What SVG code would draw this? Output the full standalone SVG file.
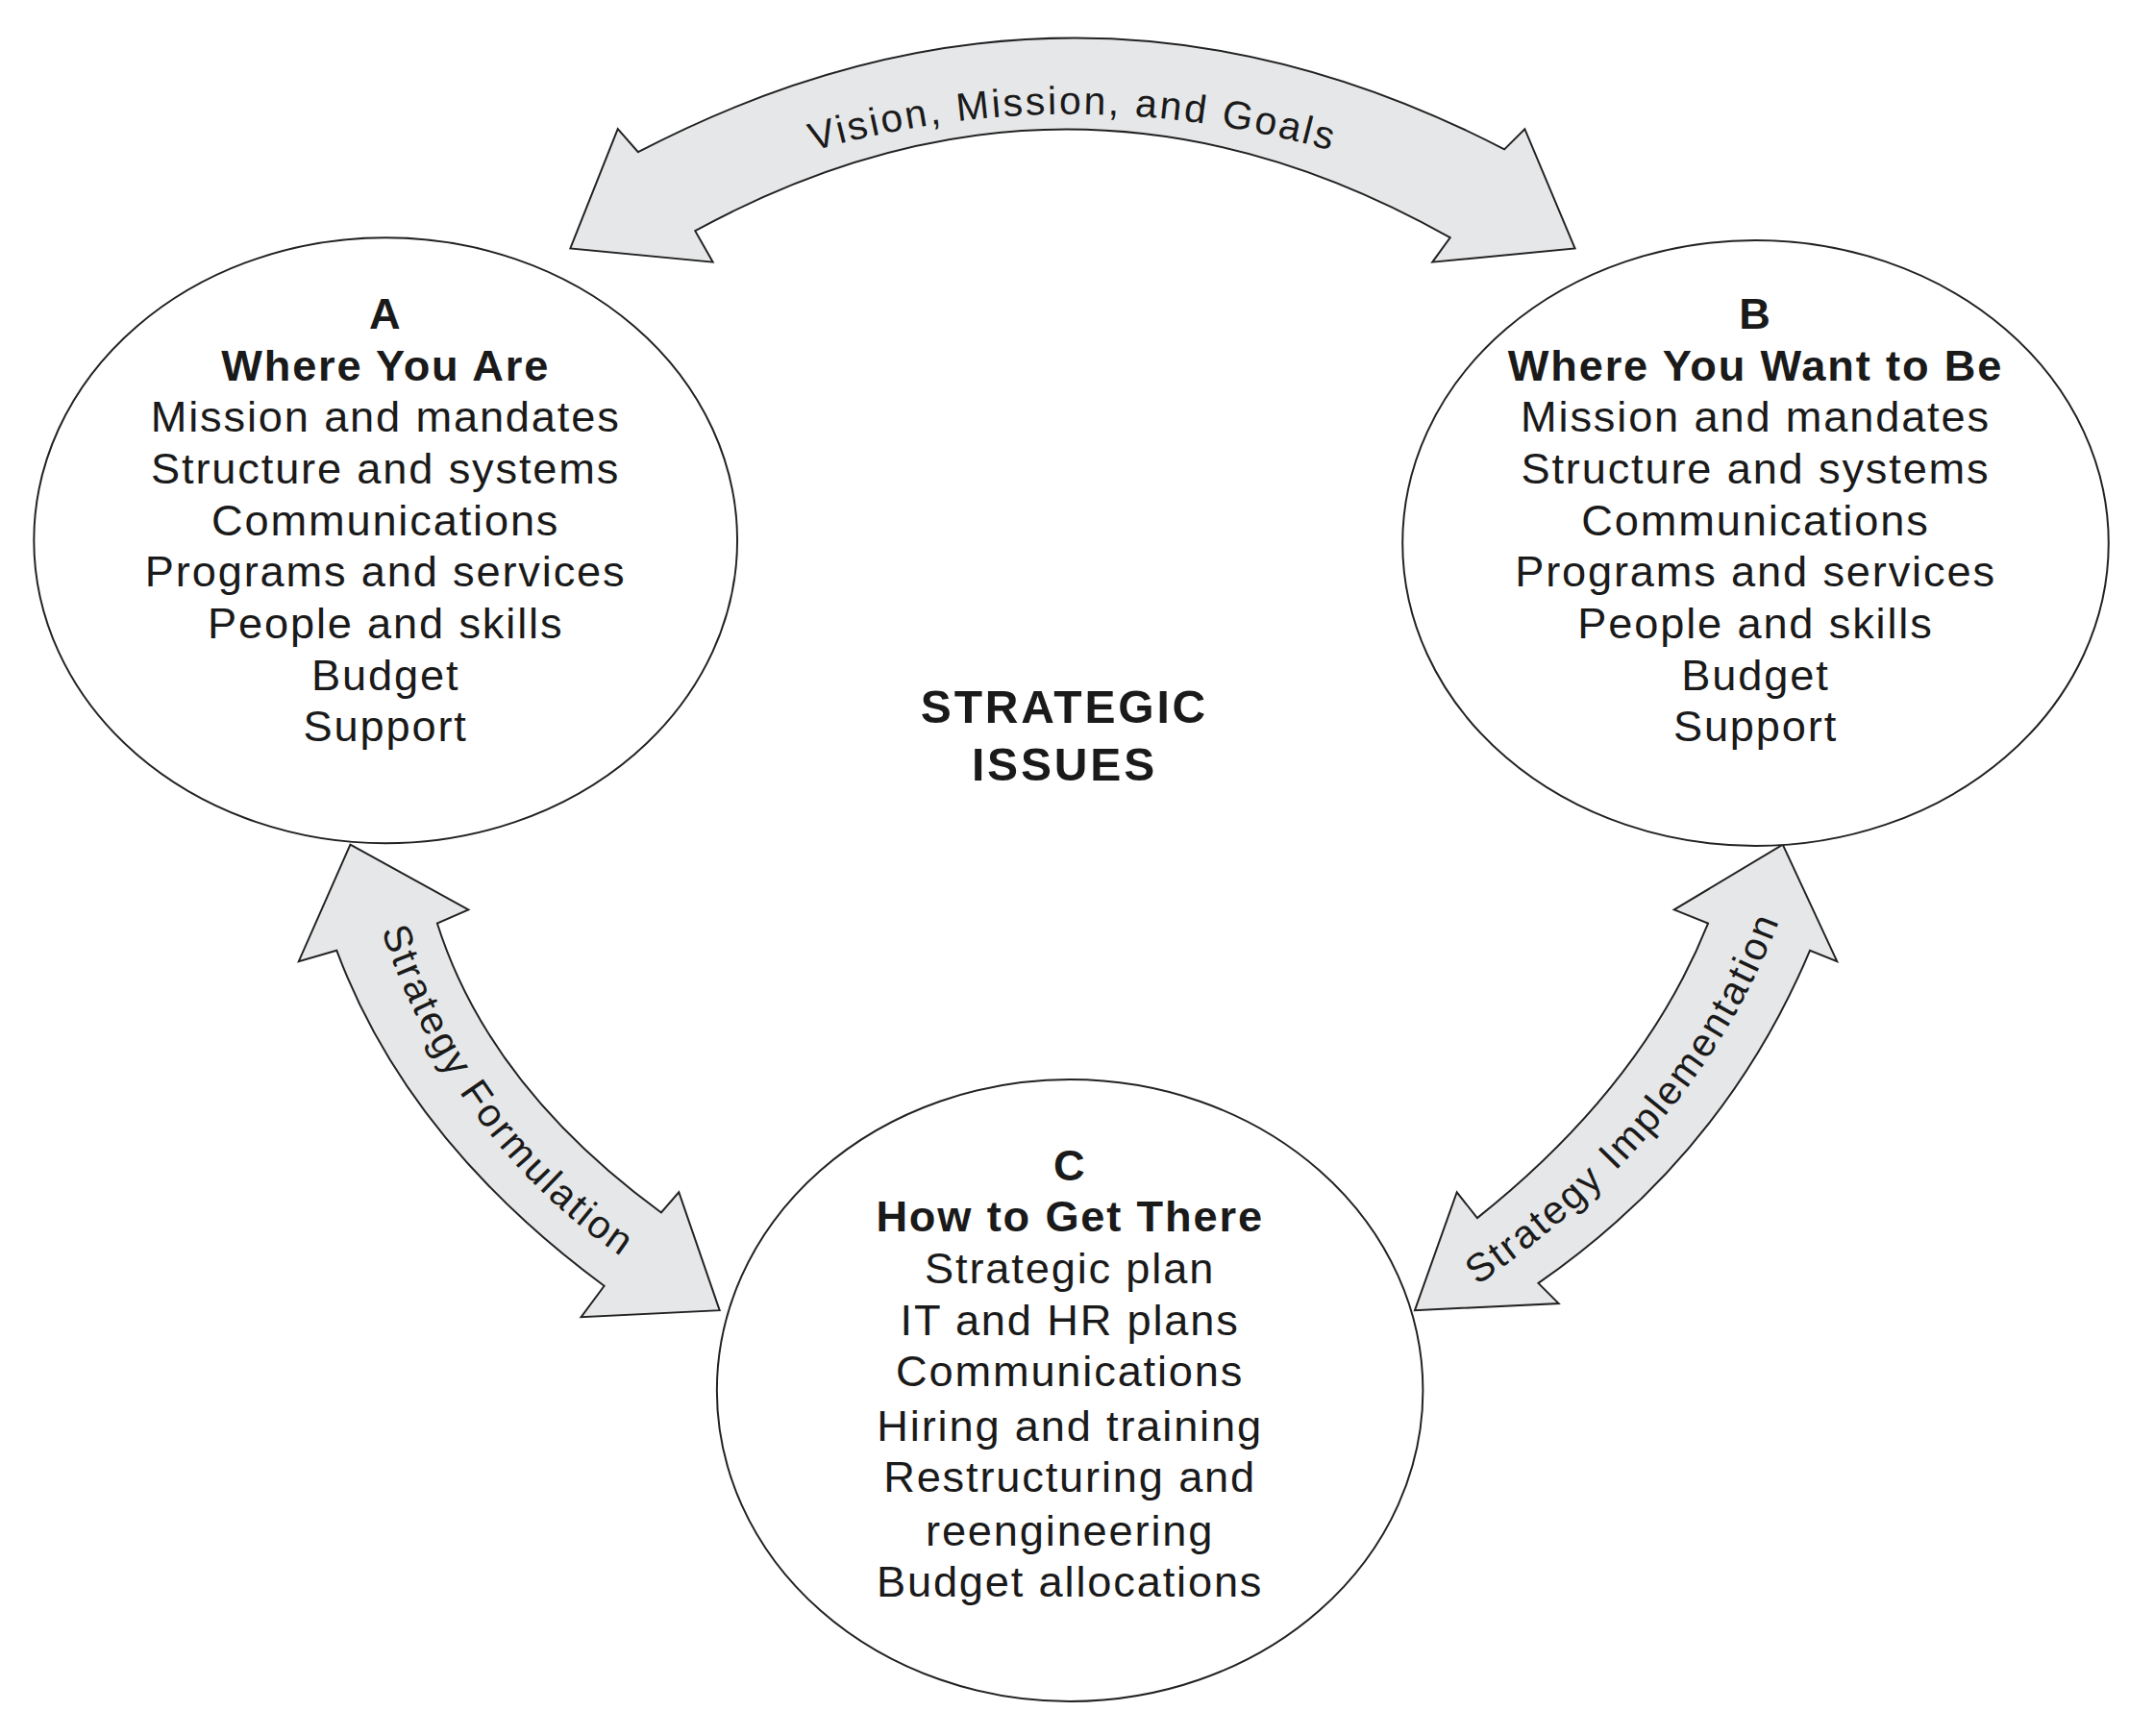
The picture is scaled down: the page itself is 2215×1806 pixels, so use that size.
<svg xmlns="http://www.w3.org/2000/svg" width="2215" height="1806" viewBox="0 0 2215 1806">
<style>
.arrow{fill:#e6e7e8;stroke:#222;stroke-width:1.4;stroke-linejoin:miter}
.node{fill:#fff;stroke:#222;stroke-width:1.4}
.t{font-family:"Liberation Sans",Arial,sans-serif;font-size:32px;letter-spacing:1.3px;fill:#1a1a1a;text-anchor:middle}
.b{font-weight:bold}
.lab{font-family:"Liberation Sans",Arial,sans-serif;font-size:29px;letter-spacing:1.8px;fill:#1a1a1a}
</style>
<defs>
<path id="p1" d="M470,160 Q790,8 1110,160"/>
<path id="p2" d="M276,670 Q330,845 472,935"/>
<path id="p3" d="M1080,952 Q1255,835 1314,668"/>
</defs>
<rect width="2215" height="1806" fill="#fff"/>
<g transform="scale(1.4126)">
<g id="connectors">
<path class="arrow" d="M420,183 L455,95 L470,112 Q790,-55 1108,110 L1123,95 L1160,183 L1055,193 L1068,175 Q790,18 512,170 L525,193 Z"/>
<path class="arrow" d="M258,622 L345,670 L322,680 Q360,800 487,893 L500,878 L530,965 L428,970 L445,947 Q300,840 248,700 L220,708 Z"/>
<path class="arrow" d="M1313,622 L1353,708 L1333,700 Q1270,850 1133,945 L1148,960 L1042,965 L1073,878 L1088,897 Q1210,800 1258,680 L1233,670 Z"/>
<text class="lab"><textPath href="#p1" startOffset="50%" text-anchor="middle">Vision, Mission, and Goals</textPath></text>
<text class="lab"><textPath href="#p2" startOffset="50%" text-anchor="middle">Strategy Formulation</textPath></text>
<text class="lab"><textPath href="#p3" startOffset="50%" text-anchor="middle">Strategy Implementation</textPath></text>
</g>
<g id="nodeA">
<ellipse class="node" cx="284" cy="398" rx="259" ry="223"/>
<text class="t b" x="284" y="242">A</text>
<text class="t b" x="284" y="280">Where You Are</text>
<text class="t" x="284" y="318">Mission and mandates</text>
<text class="t" x="284" y="356">Structure and systems</text>
<text class="t" x="284" y="394">Communications</text>
<text class="t" x="284" y="432">Programs and services</text>
<text class="t" x="284" y="470">People and skills</text>
<text class="t" x="284" y="508">Budget</text>
<text class="t" x="284" y="546">Support</text>
</g>
<g id="nodeB">
<ellipse class="node" cx="1293" cy="400" rx="260" ry="223"/>
<text class="t b" x="1293" y="242">B</text>
<text class="t b" x="1293" y="280">Where You Want to Be</text>
<text class="t" x="1293" y="318">Mission and mandates</text>
<text class="t" x="1293" y="356">Structure and systems</text>
<text class="t" x="1293" y="394">Communications</text>
<text class="t" x="1293" y="432">Programs and services</text>
<text class="t" x="1293" y="470">People and skills</text>
<text class="t" x="1293" y="508">Budget</text>
<text class="t" x="1293" y="546">Support</text>
</g>
<g id="nodeC">
<ellipse class="node" cx="788" cy="1024" rx="260" ry="229"/>
<text class="t b" x="788" y="869">C</text>
<text class="t b" x="788" y="907">How to Get There</text>
<text class="t" x="788" y="945">Strategic plan</text>
<text class="t" x="788" y="983">IT and HR plans</text>
<text class="t" x="788" y="1021">Communications</text>
<text class="t" x="788" y="1061">Hiring and training</text>
<text class="t" x="788" y="1099">Restructuring and</text>
<text class="t" x="788" y="1138">reengineering</text>
<text class="t" x="788" y="1176">Budget allocations</text>
</g>
<g id="strategic">
<text class="t b" x="784" y="532" style="font-size:34px;letter-spacing:2px">STRATEGIC</text>
<text class="t b" x="784" y="575" style="font-size:34px;letter-spacing:2px">ISSUES</text>
</g>
</g>
</svg>
